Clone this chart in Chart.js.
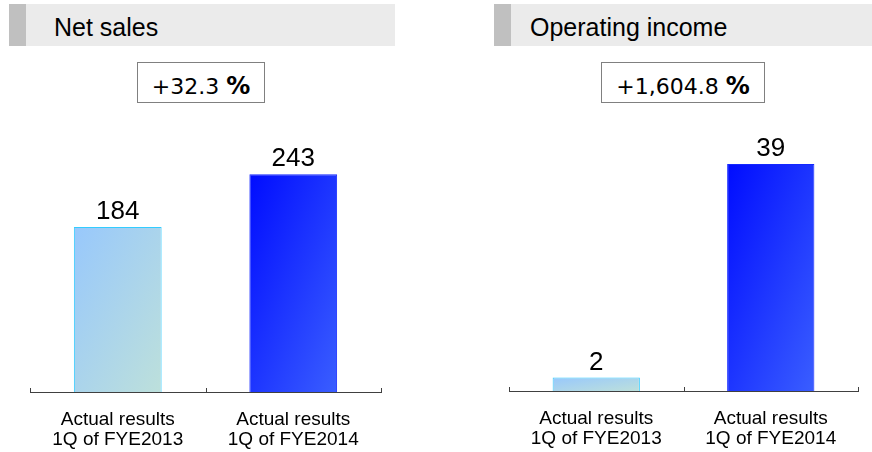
<!DOCTYPE html>
<html>
<head>
<meta charset="utf-8">
<script src="https://cdn.jsdelivr.net/npm/chart.js@4.4.0/dist/chart.umd.min.js"></script>
<style>
body { margin: 0; background: #fff; width: 872px; height: 452px; position: relative; overflow: hidden;
       font-family: "Liberation Sans", Arial, sans-serif; color: #000; }
.band { position: absolute; top: 4px; height: 42px; background: #ebebeb; }
.band .strip { position: absolute; left: 0; top: 0; width: 17px; height: 100%; background: #c0c0c0; }
.band span { position: absolute; top: 11px; font-size: 25px; line-height: 25px; white-space: nowrap; }
.box { position: absolute; top: 62px; height: 41px; border: 1px solid #808080; box-sizing: border-box; }
.box span { position: absolute; left: 0; right: 0; top: 12px; text-align: center; font-family: "DejaVu Sans", sans-serif;
            font-size: 22px; line-height: 22px; white-space: nowrap; }
.box b { font-size: 24px; }
canvas { position: absolute; }
</style>
</head>
<body>
<div class="band" style="left:9px;width:386px"><div class="strip"></div><span id="titleL" style="left:45px"></span></div>
<div class="band" style="left:494px;width:378px"><div class="strip"></div><span id="titleR" style="left:36px"></span></div>
<div class="box" style="left:137px;width:128px"><span id="chgL"></span></div>
<div class="box" style="left:601px;width:164px"><span id="chgR"></span></div>
<canvas id="chartL" width="436" height="350" style="left:0;top:118px"></canvas>
<canvas id="chartR" width="436" height="350" style="left:436px;top:118px"></canvas>
<script>
// data
const categories = [['Actual results', '1Q of FYE2013'], ['Actual results', '1Q of FYE2014']];
const netSales = [184, 243];
const operatingIncome = [2.3, 39];
const titles = ['Net sales', 'Operating income'];
const changes = ['+32.3', '+1,604.8'];

document.getElementById('titleL').textContent = titles[0];
document.getElementById('titleR').textContent = titles[1];
document.getElementById('chgL').innerHTML = changes[0] + ' <b>%</b>';
document.getElementById('chgR').innerHTML = changes[1] + ' <b>%</b>';

// colours for old year / new year bars
const fillStops = [['#98c8fc', '#bde0db'], ['#000cff', '#3a5eff']];
const borderCols = ['#33ccff', '#1428ff'];

// corner-to-corner gradient per bar (isolines along the other diagonal), bounds from the scales
function barFill(ctx) {
    const chart = ctx.chart;
    const stops = fillStops[ctx.dataIndex];
    if (!chart.chartArea) return stops[0];
    const x = chart.scales.x, y = chart.scales.y;
    const half = x.width / categories.length / 4;
    const cx = x.getPixelForValue(ctx.dataIndex);
    const top = y.getPixelForValue(ctx.raw), bottom = y.getPixelForValue(0);
    const w = half * 2, h = Math.max(bottom - top, 1);
    const k = 2 * w * h / (w * w + h * h);
    const x0 = cx - half, y0 = top;
    const g = chart.ctx.createLinearGradient(x0, y0, x0 + k * h, y0 + k * w);
    g.addColorStop(0, stops[0]);
    g.addColorStop(1, stops[1]);
    return g;
}

// value on top of each bar
const valueLabels = {
    id: 'valueLabels',
    afterDatasetsDraw(chart) {
        const c = chart.ctx;
        const meta = chart.getDatasetMeta(0);
        c.save();
        c.font = '26px "Liberation Sans", Arial, sans-serif';
        c.fillStyle = '#000';
        c.textAlign = 'center';
        c.textBaseline = 'alphabetic';
        meta.data.forEach((bar, i) => {
            const v = chart.data.datasets[0].data[i];
            c.fillText(Math.round(v).toLocaleString('en-US'), bar.x, bar.y - 8);
        });
        c.restore();
    }
};

// small upward ticks on the category boundaries
const axisTicks = {
    id: 'axisTicks',
    afterDraw(chart) {
        const x = chart.scales.x;
        const c = chart.ctx;
        const n = categories.length;
        c.save();
        c.strokeStyle = '#404040';
        c.lineWidth = 1;
        c.beginPath();
        for (let i = 0; i <= n; i++) {
            const px = Math.round(x.left + i * x.width / n) + 0.5;
            c.moveTo(px, x.top);
            c.lineTo(px, x.top - 4);
        }
        c.stroke();
        c.restore();
    }
};

function makeChart(id, values, yMax, pad) {
    return new Chart(document.getElementById(id), {
        type: 'bar',
        data: {
            labels: categories,
            datasets: [{
                data: values,
                backgroundColor: barFill,
                borderColor: borderCols,
                borderWidth: 1,
                barPercentage: 0.5,
                categoryPercentage: 1
            }]
        },
        options: {
            responsive: false,
            animation: false,
            layout: { padding: pad },
            plugins: { legend: { display: false }, tooltip: { enabled: false } },
            scales: {
                x: {
                    grid: { display: false, drawTicks: false },
                    border: { display: true, color: '#404040', width: 1 },
                    ticks: {
                        color: '#000',
                        padding: 18,
                        maxRotation: 0,
                        autoSkip: false,
                        font: { family: '"Liberation Sans", Arial, sans-serif', size: 19, lineHeight: '20px' }
                    }
                },
                y: { display: false, min: 0, max: yMax }
            }
        },
        plugins: [valueLabels, axisTicks]
    });
}

makeChart('chartL', netSales, 270, { left: 30, right: 55, top: 32, bottom: 0 });
makeChart('chartR', operatingIncome, 41.4, { left: 73, right: 14, top: 32, bottom: 1 });
</script>
</body>
</html>
